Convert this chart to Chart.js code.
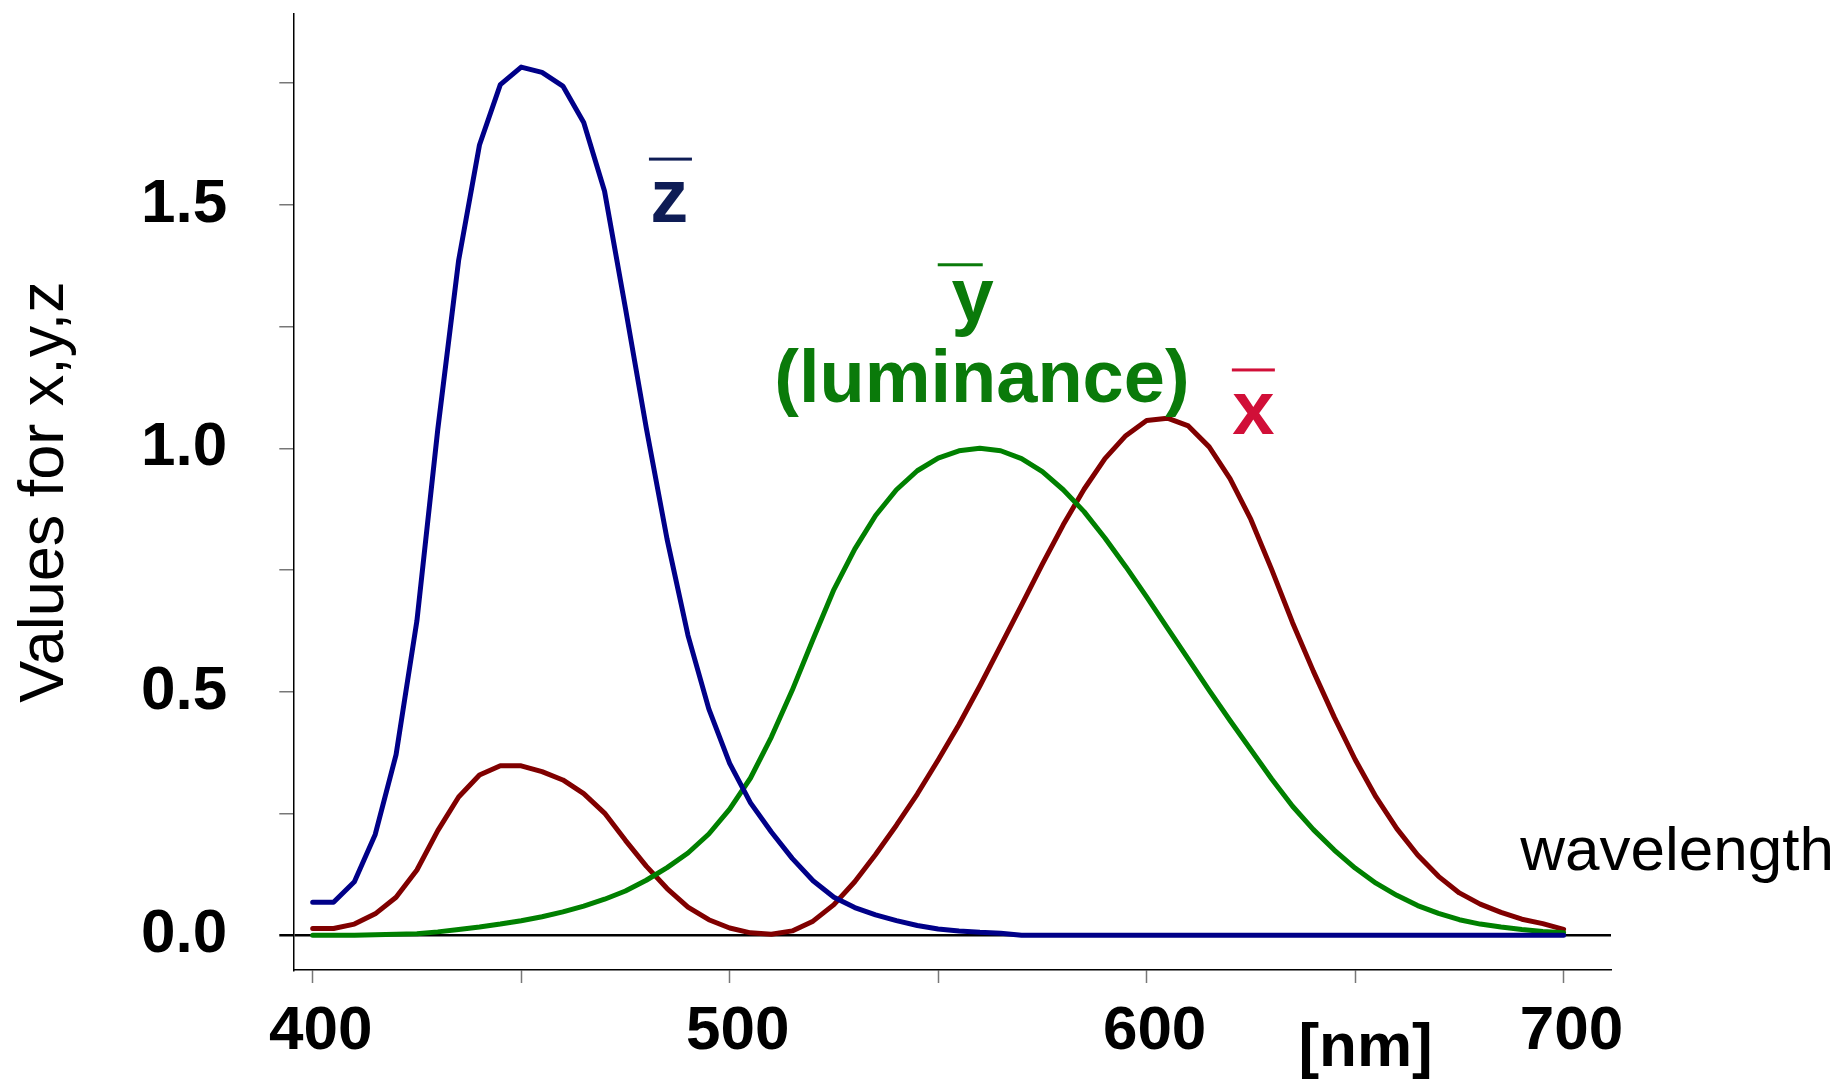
<!DOCTYPE html>
<html>
<head>
<meta charset="utf-8">
<title>CIE colour matching functions</title>
<script src="https://cdn.jsdelivr.net/npm/chart.js@4.4.1/dist/chart.umd.min.js"></script>
<style>
  html, body { margin: 0; padding: 0; background: #fff; overflow: hidden; }
  canvas { display: block; }
</style>
</head>
<body>
<canvas id="cie" width="1845" height="1083"></canvas>
<script>
// wavelength in nm, 5 nm steps
const wavelengths = [
  400, 405, 410, 415, 420, 425, 430, 435, 440, 445,
  450, 455, 460, 465, 470, 475, 480, 485, 490, 495,
  500, 505, 510, 515, 520, 525, 530, 535, 540, 545,
  550, 555, 560, 565, 570, 575, 580, 585, 590, 595,
  600, 605, 610, 615, 620, 625, 630, 635, 640, 645,
  650, 655, 660, 665, 670, 675, 680, 685, 690, 695,
  700
];

const xBar = [
  0.014, 0.014, 0.023, 0.044, 0.078, 0.134, 0.215, 0.284, 0.329, 0.348,
  0.348, 0.336, 0.319, 0.291, 0.251, 0.195, 0.142, 0.096, 0.058, 0.032,
  0.015, 0.005, 0.002, 0.009, 0.029, 0.063, 0.110, 0.166, 0.226, 0.290,
  0.360, 0.433, 0.512, 0.595, 0.678, 0.762, 0.843, 0.916, 0.979, 1.026,
  1.057, 1.062, 1.046, 1.003, 0.938, 0.854, 0.751, 0.642, 0.542, 0.448,
  0.361, 0.284, 0.219, 0.165, 0.121, 0.087, 0.064, 0.047, 0.033, 0.024,
  0.012
];

const yBar = [
  0.000, 0.000, 0.000, 0.001, 0.002, 0.003, 0.007, 0.012, 0.017, 0.023,
  0.030, 0.038, 0.048, 0.060, 0.074, 0.091, 0.113, 0.139, 0.169, 0.208,
  0.259, 0.323, 0.407, 0.503, 0.608, 0.710, 0.793, 0.862, 0.915, 0.954,
  0.980, 0.995, 1.000, 0.995, 0.979, 0.952, 0.915, 0.870, 0.816, 0.757,
  0.695, 0.631, 0.567, 0.503, 0.441, 0.381, 0.321, 0.265, 0.217, 0.175,
  0.138, 0.107, 0.082, 0.061, 0.045, 0.032, 0.023, 0.017, 0.012, 0.008,
  0.005
];

const zBar = [
  0.068, 0.068, 0.110, 0.207, 0.371, 0.646, 1.039, 1.386, 1.623, 1.747,
  1.783, 1.772, 1.744, 1.669, 1.528, 1.288, 1.042, 0.813, 0.616, 0.465,
  0.353, 0.272, 0.212, 0.158, 0.112, 0.078, 0.057, 0.042, 0.030, 0.020,
  0.013, 0.009, 0.006, 0.004, 0, 0, 0, 0, 0, 0,
  0, 0, 0, 0, 0, 0, 0, 0, 0, 0,
  0, 0, 0, 0, 0, 0, 0, 0, 0, 0,
  0
];

const xTicks = [400, 450, 500, 550, 600, 650, 700];
const xTickLabels = ['400', '', '500', '', '600', '', '700'];
const yTicks = [0, 0.25, 0.5, 0.75, 1.0, 1.25, 1.5, 1.75];
const yTickLabels = ['0.0', '', '0.5', '', '1.0', '', '1.5', ''];

const FONT = '"Liberation Sans", Arial, sans-serif';

function pts(values) {
  return wavelengths.map((w, i) => ({x: w, y: values[i]}));
}

// text labels next to the curves, placed in data units
const curveLabels = {
  id: 'curveLabels',
  afterDraw(chart) {
    const {ctx} = chart;
    const sx = chart.scales.x, sy = chart.scales.y;
    const px = v => sx.getPixelForValue(v);
    const py = v => sy.getPixelForValue(v);

    function text(str, wl, v, size, weight, color, align) {
      ctx.save();
      ctx.font = weight + ' ' + size + 'px ' + FONT;
      ctx.fillStyle = color;
      ctx.textAlign = align;
      ctx.textBaseline = 'alphabetic';
      ctx.fillText(str, px(wl), py(v));
      ctx.restore();
    }
    function bar(wl, v, w, color) {
      ctx.save();
      ctx.fillStyle = color;
      ctx.fillRect(px(wl) - w / 2, py(v) - 1.5, w, 3);
      ctx.restore();
    }

    const zCol = '#0e1c55', yCol = '#0a7a0a', xCol = '#d10f38';

    bar(485.8, 1.594, 43, zCol);
    text('z', 485.5, 1.464, 76, 'bold', zCol, 'center');

    bar(555.3, 1.377, 45, yCol);
    text('y', 558.3, 1.262, 76, 'bold', yCol, 'center');
    text('(luminance)', 560.5, 1.0945, 74, 'bold', yCol, 'center');

    bar(625.6, 1.161, 43, xCol);
    text('x', 625.6, 1.029, 76, 'bold', xCol, 'center');

    text('wavelength', 689.6, 0.134, 62, 'normal', '#000', 'left');
    text('[nm]', 636.4, -0.268, 62, 'bold', '#000', 'left');
  }
};

new Chart(document.getElementById('cie').getContext('2d'), {
  type: 'line',
  data: {
    datasets: [{
      label: 'z',
      data: pts(zBar),
      borderColor: '#000088',
    }, {
      label: 'y',
      data: pts(yBar),
      borderColor: '#008000',
    }, {
      label: 'x',
      data: pts(xBar),
      borderColor: '#800000',
    }]
  },
  options: {
    responsive: false,
    animation: false,
    devicePixelRatio: 1,
    layout: { padding: { left: 0, top: 14, right: 234, bottom: 0 } },
    elements: {
      line: { borderWidth: 5, tension: 0, fill: false, borderJoinStyle: 'round', borderCapStyle: 'round' },
      point: { radius: 0, hoverRadius: 0 }
    },
    plugins: {
      legend: { display: false },
      tooltip: { enabled: false }
    },
    scales: {
      x: {
        type: 'linear',
        min: 395.35,
        max: 711.37,
        afterFit: s => { s.height = 113; s.paddingLeft = 0; s.paddingRight = 0; },
        afterBuildTicks: s => { s.ticks = xTicks.map(v => ({value: v})); },
        border: { display: true, color: '#000', width: 1.5 },
        grid: { drawOnChartArea: false, drawTicks: true, tickLength: 13, tickColor: '#777', tickWidth: 1.5 },
        ticks: {
          autoSkip: false,
          maxRotation: 0,
          padding: 12,
          labelOffset: 8,
          color: '#000',
          font: { family: FONT, size: 62, weight: 'bold' },
          callback: (v, i) => xTickLabels[i]
        }
      },
      y: {
        type: 'linear',
        min: -0.0713,
        max: 1.892,
        afterFit: s => { s.width = 293.3; s.paddingTop = 0; s.paddingBottom = 0; },
        afterBuildTicks: s => { s.ticks = yTicks.map(v => ({value: v})); },
        border: { display: true, color: '#000', width: 1.5 },
        grid: {
          drawOnChartArea: true,
          drawTicks: true,
          tickLength: 14,
          color: c => (c.tick && c.tick.value === 0) ? '#000' : 'rgba(0,0,0,0)',
          lineWidth: c => (c.tick && c.tick.value === 0) ? 2.5 : 1.5,
          tickColor: c => (c.tick && c.tick.value === 0) ? '#000' : '#777'
        },
        ticks: {
          autoSkip: false,
          padding: 52,
          color: '#000',
          font: { family: FONT, size: 62, weight: 'bold' },
          callback: (v, i) => yTickLabels[i]
        },
        title: {
          display: true,
          text: 'Values for x,y,z',
          color: '#000',
          padding: { top: 8, bottom: 0 },
          font: { family: FONT, size: 63, weight: 'normal' }
        }
      }
    }
  },
  plugins: [curveLabels]
});
</script>
</body>
</html>
